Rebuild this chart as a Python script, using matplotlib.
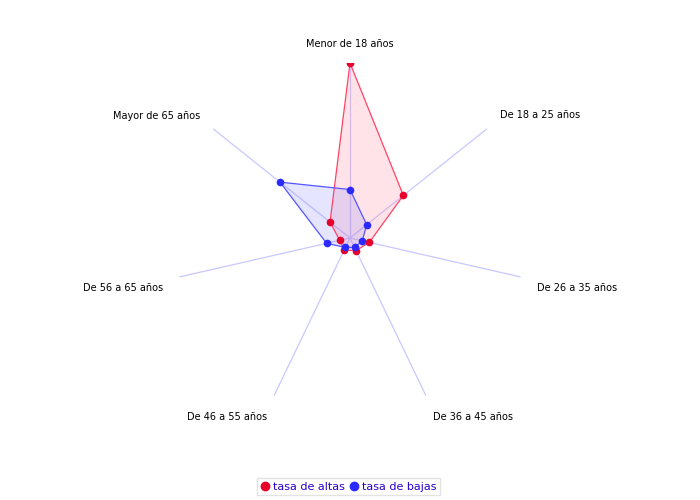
import numpy as np
import matplotlib
matplotlib.use("Agg")
import matplotlib.pyplot as plt
from matplotlib.lines import Line2D

categories = ["Menor de 18 años", "De 18 a 25 años", "De 26 a 35 años",
              "De 36 a 45 años", "De 46 a 55 años", "De 56 a 65 años",
              "Mayor de 65 años"]
altas = [100.0, 39.0, 11.3, 8.0, 7.7, 6.0, 14.6]
bajas = [27.7, 12.2, 7.2, 6.0, 6.0, 13.7, 51.2]
series_names = ["tasa de altas", "tasa de bajas"]
rmax = 100.0

fig = plt.figure(figsize=(7, 5), dpi=100)
ax = fig.add_axes([0.25, 0.174, 0.5, 0.7], projection="polar")
ax.set_theta_zero_location("N")
ax.set_theta_direction(-1)
ax.set_ylim(0, rmax)
ax.grid(False)
ax.spines["polar"].set_visible(False)
ax.set_xticks([])
ax.set_yticks([])
ax.patch.set_alpha(0)

n = len(categories)
theta = np.arange(n) * 2 * np.pi / n

# spokes
for t in theta:
    ax.plot([t, t], [0, rmax], color="#c8c8ff", lw=0.9, zorder=1)

def closed(v):
    return list(v) + [v[0]]

th_c = closed(theta)
# altas
ax.fill(th_c, closed(altas), color="#ff8098", alpha=0.22, zorder=2, lw=0)
ax.plot(th_c, closed(altas), color="#ff4466", lw=0.9, zorder=3)
# bajas
ax.fill(th_c, closed(bajas), color="#8080ff", alpha=0.2, zorder=2, lw=0)
ax.plot(th_c, closed(bajas), color="#5555ff", lw=0.9, zorder=3)
ax.plot(theta, altas, "o", color="#e8002a", ms=4.5, mec="#e8002a", zorder=5, ls="none")
ax.plot(theta, bajas, "o", color="#2a2aff", ms=4.5, mec="#2a2aff", zorder=5, ls="none")

offsets = [(0, 19, "center"), (13, 14, "left"), (16, -11, "left"),
           (7, -21, "left"), (-7, -21, "right"), (-16, -11, "right"),
           (-13, 13, "right")]
for t, lab, (dx, dy, ha) in zip(theta, categories, offsets):
    ax.annotate(lab, xy=(t, rmax), xytext=(dx, dy), textcoords="offset pixels",
                ha=ha, va="center", fontsize=7, color="black",
                annotation_clip=False)

handles = [Line2D([], [], marker="o", ls="none", color="#e8002a", ms=6),
           Line2D([], [], marker="o", ls="none", color="#2a2aff", ms=6)]
leg = fig.legend(handles, series_names, loc="center", bbox_to_anchor=(0.4985, 0.027),
                 ncol=2, frameon=True, fancybox=False, fontsize=8,
                 handlelength=0.7, handletextpad=0.35, columnspacing=0.5,
                 borderpad=0.35, borderaxespad=0, labelcolor="#2a00cc")
leg.get_frame().set_edgecolor("#dddddd")
leg.get_frame().set_linewidth(1)

fig.savefig("out.png", dpi=100)
